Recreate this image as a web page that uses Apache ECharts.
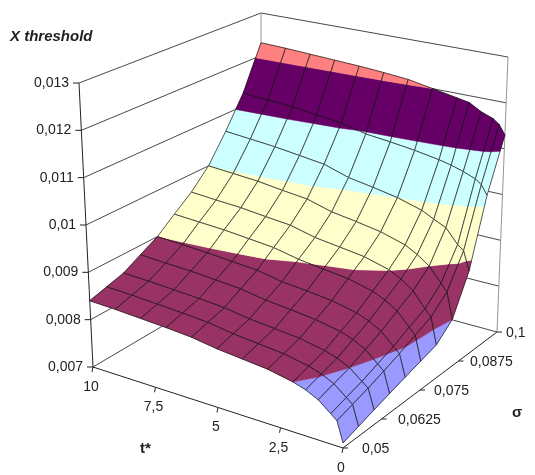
<!DOCTYPE html>
<html><head><meta charset="utf-8">
<script src="https://cdn.jsdelivr.net/npm/echarts@6/dist/echarts.min.js"></script>
<style>html,body{margin:0;padding:0;background:#fff}#c{width:535px;height:475px}</style>
</head><body><div id="c"></div>
<script>
// ---- data ----
var tValues = [0,0.25,0.5,1,1.5,2,3,4,5,6,7,8,9,10];
var sigmaValues = [0.05,0.055,0.06,0.065,0.07,0.075,0.08,0.085,0.09,0.095,0.1];
// X threshold, rows = sigma, columns = t
var xThreshold = [
 [0.0071,0.0075,0.0076,0.0078,0.00792,0.0080,0.0081,0.00815,0.0082,0.00828,0.00832,0.00835,0.00838,0.0084],
 [0.0072,0.0076,0.0077,0.0079,0.00802,0.0081,0.0082,0.00825,0.0083,0.00838,0.00842,0.00845,0.00848,0.0085],
 [0.0073,0.0077,0.0078,0.0080,0.00812,0.0082,0.0083,0.00835,0.0084,0.00848,0.00852,0.00855,0.00858,0.0086],
 [0.0074,0.00782,0.00793,0.00815,0.00828,0.00837,0.00847,0.00853,0.00858,0.00867,0.00871,0.00875,0.00877,0.0088],
 [0.0075,0.00795,0.00806,0.0083,0.00844,0.00854,0.00865,0.00871,0.00876,0.00886,0.0089,0.00894,0.00897,0.0090],
 [0.0076,0.0081,0.00823,0.0085,0.00866,0.00877,0.0089,0.00896,0.00903,0.00914,0.00919,0.00924,0.00927,0.0093],
 [0.0077,0.00825,0.00839,0.0087,0.00888,0.00901,0.00915,0.00922,0.00929,0.00942,0.00947,0.00953,0.00956,0.0096],
 [0.0080,0.00855,0.0087,0.009,0.00918,0.00932,0.00947,0.00956,0.00964,0.00979,0.00985,0.00992,0.00996,0.0100],
 [0.0088,0.0092,0.0093,0.0096,0.00972,0.00985,0.0100,0.0101,0.01019,0.01036,0.01043,0.0105,0.01055,0.0106],
 [0.0102,0.0104,0.0105,0.0106,0.01068,0.01074,0.01083,0.0109,0.01096,0.01109,0.01115,0.01122,0.01126,0.0113],
 [0.0113,0.0115,0.0116,0.0117,0.01185,0.0119,0.0120,0.0121,0.01215,0.01219,0.01222,0.01225,0.01228,0.0123]
];
var zTicks = [0.007,0.008,0.009,0.010,0.011,0.012,0.013];
var zTickLabels = ['0,007','0,008','0,009','0,01','0,011','0,012','0,013'];
var tTicks = [10,7.5,5,2.5,0];
var tTickLabels = ['10','7,5','5','2,5','0'];
var sTicks = [0.05,0.0625,0.075,0.0875,0.1];
var sTickLabels = ['0,05','0,0625','0,075','0,0875','0,1'];
var bandColors = ['#9999ff','#993366','#ffffcc','#ccffff','#660066','#ff8080'];

// ---- view (box corners in page pixels) ----
var C = {F0:[343,448],F1:[346,145],L0:[93,367],L1:[79,83],R0:[497,332],R1:[508,57],B0:[261,268],B1:[261,13]};
var tMin=0,tMax=10,sMin=0.05,sMax=0.1,zMin=0.007,zMax=0.013;
function bil(a,b,c,d,u,v){ // a:(0,0) b:(1,0) c:(0,1) d:(1,1)
  return [a[0]*(1-u)*(1-v)+b[0]*u*(1-v)+c[0]*(1-u)*v+d[0]*u*v,
          a[1]*(1-u)*(1-v)+b[1]*u*(1-v)+c[1]*(1-u)*v+d[1]*u*v];
}
function proj(t,s,z){
  var u=(t-tMin)/(tMax-tMin), v=(s-sMin)/(sMax-sMin), w=(z-zMin)/(zMax-zMin);
  var b=bil(C.F0,C.L0,C.R0,C.B0,u,v), tp=bil(C.F1,C.L1,C.R1,C.B1,u,v);
  return [b[0]+(tp[0]-b[0])*w, b[1]+(tp[1]-b[1])*w];
}
function clip(poly,lv,keepAbove){
  var out=[];
  for(var i=0;i<poly.length;i++){
    var a=poly[i], b=poly[(i+1)%poly.length];
    var ina = keepAbove ? a[2]>=lv : a[2]<=lv;
    var inb = keepAbove ? b[2]>=lv : b[2]<=lv;
    if(ina) out.push(a);
    if(ina!==inb){
      var f=(lv-a[2])/(b[2]-a[2]);
      out.push([a[0]+(b[0]-a[0])*f,a[1]+(b[1]-a[1])*f,lv]);
    }
  }
  return out;
}
var chart = echarts.init(document.getElementById('c'));
function renderItem(params, api){
  if(params.dataIndex!==0) return;
  var P=function(t,s,z){return api.coord(proj(t,s,z));};
  var kids=[];
  function line(a,b,col,w){kids.push({type:'line',shape:{x1:a[0],y1:a[1],x2:b[0],y2:b[1]},style:{stroke:col,lineWidth:w}});}
  function text(str,p,align,vAlign,extra){
    var st={text:str,x:p[0],y:p[1],align:align,verticalAlign:vAlign,fill:'#222',fontSize:14,fontFamily:'Liberation Sans, Arial, sans-serif'};
    for(var k in extra) st[k]=extra[k];
    kids.push({type:'text',style:st});
  }
  // walls
  for(var i=0;i<zTicks.length;i++){
    var z=zTicks[i];
    line(P(tMax,sMin,z),P(tMax,sMax,z),'#333',0.9);
    line(P(tMax,sMax,z),P(tMin,sMax,z),'#333',0.9);
  }
  line(P(tMax,sMax,zMin),P(tMax,sMax,zMax),'#888',0.9);
  line(P(tMin,sMax,zMin),P(tMin,sMax,zMax),'#888',0.9);
  // surface cells, far to near
  var cells=[];
  for(var j=0;j<sigmaValues.length-1;j++) for(var k=0;k<tValues.length-1;k++){
    var u=((tValues[k]+tValues[k+1])/2-tMin)/(tMax-tMin), v=((sigmaValues[j]+sigmaValues[j+1])/2-sMin)/(sMax-sMin);
    cells.push({j:j,k:k,d:u+v});
  }
  cells.sort(function(a,b){return b.d-a.d;});
  cells.forEach(function(c){
    var j=c.j,k=c.k;
    var q=[[tValues[k],sigmaValues[j],xThreshold[j][k]],[tValues[k+1],sigmaValues[j],xThreshold[j][k+1]],
           [tValues[k+1],sigmaValues[j+1],xThreshold[j+1][k+1]],[tValues[k],sigmaValues[j+1],xThreshold[j+1][k]]];
    for(var b=0;b<bandColors.length;b++){
      var lo=zTicks[b],hi=zTicks[b+1];
      var pg=clip(clip(q,lo,true),hi,false);
      if(pg.length<3) continue;
      kids.push({type:'polygon',shape:{points:pg.map(function(p){return P(p[0],p[1],p[2]);})},
        style:{fill:bandColors[b],stroke:bandColors[b],lineWidth:0.5}});
    }
    kids.push({type:'polygon',shape:{points:q.map(function(p){return P(p[0],p[1],p[2]);})},
      style:{fill:null,stroke:'#111',lineWidth:0.7}});
  });
  // front axes
  line(P(tMax,sMin,zMin),P(tMax,sMin,zMax),'#222',1);
  line(P(tMax,sMin,zMin),P(tMin,sMin,zMin),'#222',1);
  line(P(tMin,sMin,zMin),P(tMin,sMax,zMin),'#222',1);
  for(i=0;i<zTicks.length;i++){
    var p=P(tMax,sMin,zTicks[i]);
    line([p[0]-6,p[1]],p,'#222',1);
    text(zTickLabels[i],[p[0]-10,p[1]],'right','middle',{});
  }
  for(i=0;i<tTicks.length;i++){
    var p=P(tTicks[i],sMin,zMin);
    line(p,[p[0]-1,p[1]+5],'#222',1);
    text(tTickLabels[i],[p[0]-2,p[1]+20],'center','middle',{});
  }
  for(i=0;i<sTicks.length;i++){
    var p=P(tMin,sTicks[i],zMin), v=i/(sTicks.length-1);
    line(p,[p[0]+5,p[1]],'#222',1);
    text(sTickLabels[i],[p[0]+19-10*v,p[1]+1],'left','middle',{});
  }
  text('X threshold',[10,37],'left','middle',{fontWeight:'bold',fontStyle:'italic',fontSize:15});
  text('t*',[140,449],'left','middle',{fontWeight:'bold',fontSize:15});
  text('σ',[512,413],'left','middle',{fontWeight:'bold',fontSize:15});
  return {type:'group',children:kids};
}
chart.setOption({
  animation:false,
  grid:{left:0,right:0,top:0,bottom:0},
  xAxis:{type:'value',min:0,max:535,show:false},
  yAxis:{type:'value',min:0,max:475,inverse:true,show:false},
  series:[{type:'custom',renderItem:renderItem,data:[[0,0]],clip:false,silent:true}]
});
</script></body></html>
